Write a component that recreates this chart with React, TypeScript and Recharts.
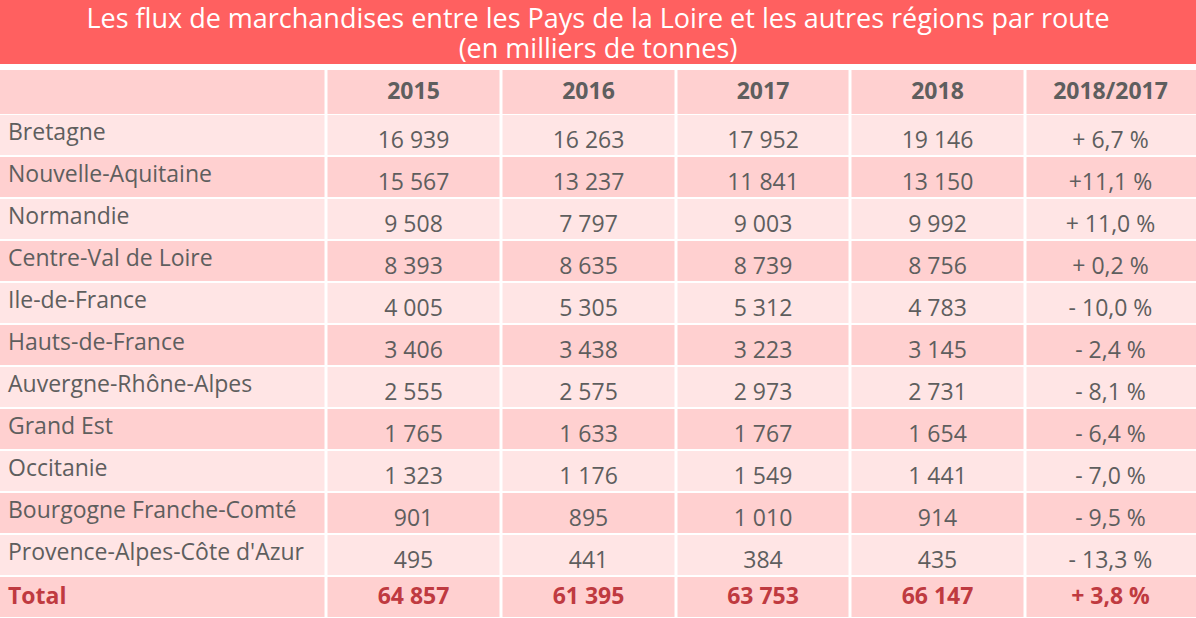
import { BarChart, Bar, XAxis, YAxis } from 'recharts'

const regions = [
  'Bretagne',
  'Nouvelle-Aquitaine',
  'Normandie',
  'Centre-Val de Loire',
  'Ile-de-France',
  'Hauts-de-France',
  'Auvergne-Rhône-Alpes',
  'Grand Est',
  'Occitanie',
  'Bourgogne Franche-Comté',
  "Provence-Alpes-Côte d'Azur",
]
const years = ['2015', '2016', '2017', '2018']
const v2015 = [16939, 15567, 9508, 8393, 4005, 3406, 2555, 1765, 1323, 901, 495]
const v2016 = [16263, 13237, 7797, 8635, 5305, 3438, 2575, 1633, 1176, 895, 441]
const v2017 = [17952, 11841, 9003, 8739, 5312, 3223, 2973, 1767, 1549, 1010, 384]
const v2018 = [19146, 13150, 9992, 8756, 4783, 3145, 2731, 1654, 1441, 914, 435]
const evolution = ['+ 6,7 %', '+11,1 %', '+ 11,0 %', '+ 0,2 %', '- 10,0 %', '- 2,4 %', '- 8,1 %', '- 6,4 %', '- 7,0 %', '- 9,5 %', '- 13,3 %']
const totals = [64857, 61395, 63753, 66147]
const totalEvolution = '+ 3,8 %'

const W = 1196
const H = 618
const COLS = [0, 326, 501, 676, 850, 1025, W]
const FONT = "'Open Sans', sans-serif"
const LIGHT = '#ffe5e5'
const DARK = '#ffd0d0'
const TEXT = '#5e5e5e'
const RED = '#bf3a40'
const FS = 23

const fmt = (n: number) => String(n).replace(/\B(?=(\d{3})+(?!\d))/g, ' ')

type Row = { name: string; cells: string[]; total: boolean; span: number }

const rows: Row[] = regions.map((name, i) => ({
  name,
  cells: [fmt(v2015[i]), fmt(v2016[i]), fmt(v2017[i]), fmt(v2018[i]), evolution[i]],
  total: false,
  span: 1,
}))
rows.push({ name: 'Total', cells: [...totals.map(fmt), totalEvolution], total: true, span: 1 })

function cellX(c: number) {
  return COLS[c] + (c > 0 ? 1.5 : 0)
}
function cellW(c: number) {
  return COLS[c + 1] - COLS[c] - (c > 0 ? 1.5 : 0) - (c < COLS.length - 2 ? 1.5 : 0)
}

function RowShape(props: any) {
  const { y, height, index, payload } = props
  const row: Row = payload
  const fill = index % 2 === 0 ? LIGHT : DARK
  const labelY = row.total ? y + 19 : y + 17
  const numY = row.total ? y + 19 : y + 25
  return (
    <g>
      {COLS.slice(0, -1).map((_, c) => (
        <rect key={c} x={cellX(c)} y={y + 1} width={cellW(c)} height={height - 2} fill={fill} />
      ))}
      <text
        x={8}
        y={labelY}
        dominantBaseline="central"
        fontFamily={FONT}
        fontSize={FS}
        fontWeight={row.total ? 700 : 400}
        fill={row.total ? RED : TEXT}
      >
        {row.name}
      </text>
      {row.cells.map((t, c) => (
        <text
          key={c}
          x={(COLS[c + 1] + COLS[c + 2]) / 2}
          y={numY}
          textAnchor="middle"
          dominantBaseline="central"
          fontFamily={FONT}
          fontSize={FS}
          fontWeight={row.total ? 700 : 400}
          fill={row.total ? RED : TEXT}
        >
          {t}
        </text>
      ))}
    </g>
  )
}

const headers = [...years, '2018/2017']

const titleLine = {
  position: 'absolute' as const,
  left: 0,
  width: W,
  height: 28,
  fontSize: 27,
  lineHeight: '28px',
  textAlign: 'center' as const,
  color: '#fff',
  whiteSpace: 'nowrap' as const,
}

export default function App() {
  return (
    <div style={{ position: 'absolute', left: 0, top: 0, width: W, height: H, background: '#fff', fontFamily: FONT }}>
      <div style={{ position: 'absolute', left: 0, top: 0, width: W, height: 64, background: '#ff6060' }} />
      <div style={{ ...titleLine, top: 4 }}>
        Les flux de marchandises entre les Pays de la Loire et les autres régions par route
      </div>
      <div style={{ ...titleLine, top: 34 }}>(en milliers de tonnes)</div>
      <BarChart
        width={W}
        height={H}
        data={rows}
        layout="vertical"
        barCategoryGap={0}
        margin={{ top: 114, right: 0, bottom: 0, left: 0 }}
        style={{ position: 'absolute', left: 0, top: 0 }}
      >
        <XAxis type="number" domain={[0, 1]} hide />
        <YAxis type="category" dataKey="name" hide />
        <g>
          {headers.concat(['']).map((_, c) => (
            <rect key={c} x={cellX(c)} y={70} width={cellW(c)} height={44} fill={DARK} />
          ))}
          {headers.map((h, c) => (
            <text
              key={h}
              x={(COLS[c + 1] + COLS[c + 2]) / 2}
              y={90}
              textAnchor="middle"
              dominantBaseline="central"
              fontFamily={FONT}
              fontSize={FS}
              fontWeight={700}
              fill={TEXT}
            >
              {h}
            </text>
          ))}
        </g>
        <Bar dataKey="span" shape={RowShape} isAnimationActive={false} />
      </BarChart>
    </div>
  )
}
